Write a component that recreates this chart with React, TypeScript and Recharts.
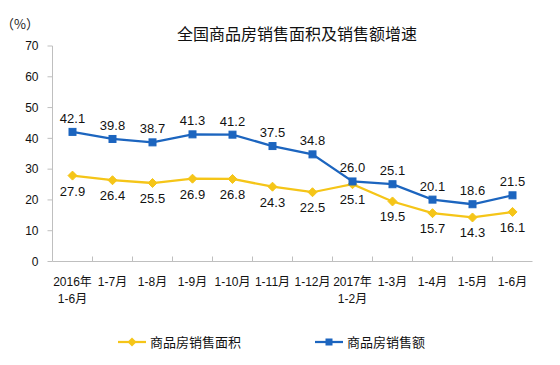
import React from 'react';
import { LineChart, Line, XAxis, YAxis, Legend, LabelList } from 'recharts';

const categories = [
  '2016年\n1-6月', '1-7月', '1-8月', '1-9月', '1-10月', '1-11月', '1-12月',
  '2017年\n1-2月', '1-3月', '1-4月', '1-5月', '1-6月',
];
const salesArea = [27.9, 26.4, 25.5, 26.9, 26.8, 24.3, 22.5, 25.1, 19.5, 15.7, 14.3, 16.1];
const salesAmount = [42.1, 39.8, 38.7, 41.3, 41.2, 37.5, 34.8, 26.0, 25.1, 20.1, 18.6, 21.5];
const yTicks = [0, 10, 20, 30, 40, 50, 60, 70];
const areaName = '商品房销售面积';
const amountName = '商品房销售额';
const titleText = '全国商品房销售面积及销售额增速';
const unitText = '（%）';

const data = categories.map((c, i) => ({ cat: c, area: salesArea[i], amount: salesAmount[i] }));

const YELLOW = '#F5C518';
const BLUE = '#1C65BF';
const AXIS = '#BFBFBF';
const FONT = "'Liberation Sans', 'Noto Sans CJK SC', sans-serif";
const CJK = "'Noto Sans CJK SC', 'Liberation Sans', sans-serif";
const STEP = 40;

const XTick = (props: any) => {
  const { x, y, payload, index, visibleTicksCount } = props;
  const half = STEP / 2;
  const lines = String(payload.value).split('\n');
  return (
    <g>
      {index < visibleTicksCount - 1 && (
        <line x1={x + half} x2={x + half} y1={y} y2={y - 5} stroke={AXIS} strokeWidth={1} />
      )}
      <text x={x} y={y + 24} textAnchor="middle" fontSize={12} fill="#111" fontFamily={FONT}>
        {lines.map((l, i) => (
          <tspan key={i} x={x} dy={i === 0 ? 0 : 17}>{l}</tspan>
        ))}
      </text>
    </g>
  );
};

const Diamond = (props: any) => {
  const { cx, cy } = props;
  if (cx == null || cy == null) return null;
  const r = 4.5;
  return <path d={`M${cx},${cy - r}L${cx + r},${cy}L${cx},${cy + r}L${cx - r},${cy}Z`} fill={YELLOW} stroke={YELLOW} />;
};

const Square = (props: any) => {
  const { cx, cy } = props;
  if (cx == null || cy == null) return null;
  const s = 7;
  return <rect x={cx - s / 2} y={cy - s / 2} width={s} height={s} fill={BLUE} stroke={BLUE} />;
};

const makeLabel = (above: boolean) => (props: any) => {
  const { x, y, value } = props;
  if (x == null || y == null) return null;
  return (
    <text x={x} y={above ? y - 9 : y + 20} textAnchor="middle" fontSize={13} fill="#111" fontFamily={FONT}>
      {Number(value).toFixed(1)}
    </text>
  );
};

const legendLefts = [118, 315];

const LegendContent = (props: any) => {
  const payload = props.payload || [];
  return (
    <div style={{ position: 'relative', width: 560, height: 16 }}>
      {payload.map((p: any, i: number) => {
        const isArea = p.dataKey === 'area';
        const c = p.color;
        return (
          <div key={i} style={{ position: 'absolute', left: legendLefts[i] ?? 0, top: 0, display: 'flex', alignItems: 'center' }}>
            <svg width={28} height={12} style={{ display: 'block' }}>
              <line x1={0} x2={28} y1={6} y2={6} stroke={c} strokeWidth={2.25} />
              {isArea ? (
                <path d="M14,1.5L18.5,6L14,10.5L9.5,6Z" fill={c} />
              ) : (
                <rect x={10.5} y={2.5} width={7} height={7} fill={c} />
              )}
            </svg>
            <span style={{ marginLeft: 4, fontSize: 13, fontFamily: CJK, color: '#111', lineHeight: '16px', whiteSpace: 'nowrap' }}>
              {p.value}
            </span>
          </div>
        );
      })}
    </div>
  );
};

export default function App() {
  return (
    <div style={{ position: 'absolute', left: 0, top: 0, width: 560, height: 365, background: '#fff' }}>
      <LineChart width={560} height={365} data={data} margin={{ top: 46, right: 27.5, left: 0, bottom: 63.5 }}>
        <XAxis
          dataKey="cat"
          height={40}
          padding={{ left: STEP / 2, right: STEP / 2 }}
          tickLine={false}
          tickSize={0}
          tickMargin={0}
          axisLine={{ stroke: AXIS }}
          interval={0}
          tick={<XTick />}
        />
        <XAxis
          xAxisId="top"
          orientation="top"
          dataKey="cat"
          height={0}
          tick={false}
          tickLine={false}
          axisLine={{ stroke: AXIS }}
        />
        <YAxis
          width={52.5}
          domain={[0, 70]}
          ticks={yTicks}
          tickSize={5}
          tickMargin={9}
          axisLine={{ stroke: AXIS }}
          tickLine={{ stroke: AXIS }}
          tick={{ fontSize: 12, fill: '#111', fontFamily: FONT }}
          interval={0}
        />
        <YAxis
          yAxisId="right"
          orientation="right"
          width={0}
          domain={[0, 70]}
          tick={false}
          tickLine={false}
          axisLine={{ stroke: AXIS }}
        />
        <Legend
          verticalAlign="bottom"
          content={<LegendContent />}
          wrapperStyle={{ top: 334, bottom: 'auto', left: 0, width: 560, height: 0 }}
        />
        <Line
          type="linear"
          dataKey="area"
          name={areaName}
          stroke={YELLOW}
          strokeWidth={2.25}
          dot={<Diamond />}
          activeDot={false}
          isAnimationActive={false}
        >
          <LabelList dataKey="area" content={makeLabel(false)} />
        </Line>
        <Line
          type="linear"
          dataKey="amount"
          name={amountName}
          stroke={BLUE}
          strokeWidth={2.25}
          dot={<Square />}
          activeDot={false}
          isAnimationActive={false}
        >
          <LabelList dataKey="amount" content={makeLabel(true)} />
        </Line>
      </LineChart>
      <div style={{ position: 'absolute', left: 147, top: 23, width: 300, textAlign: 'center', fontSize: 16, lineHeight: '20px', fontFamily: CJK, color: '#111' }}>
        {titleText}
      </div>
      <div style={{ position: 'absolute', left: 1, top: 15, fontSize: 13, lineHeight: '18px', fontFamily: CJK, color: '#222' }}>
        {unitText}
      </div>
    </div>
  );
}
